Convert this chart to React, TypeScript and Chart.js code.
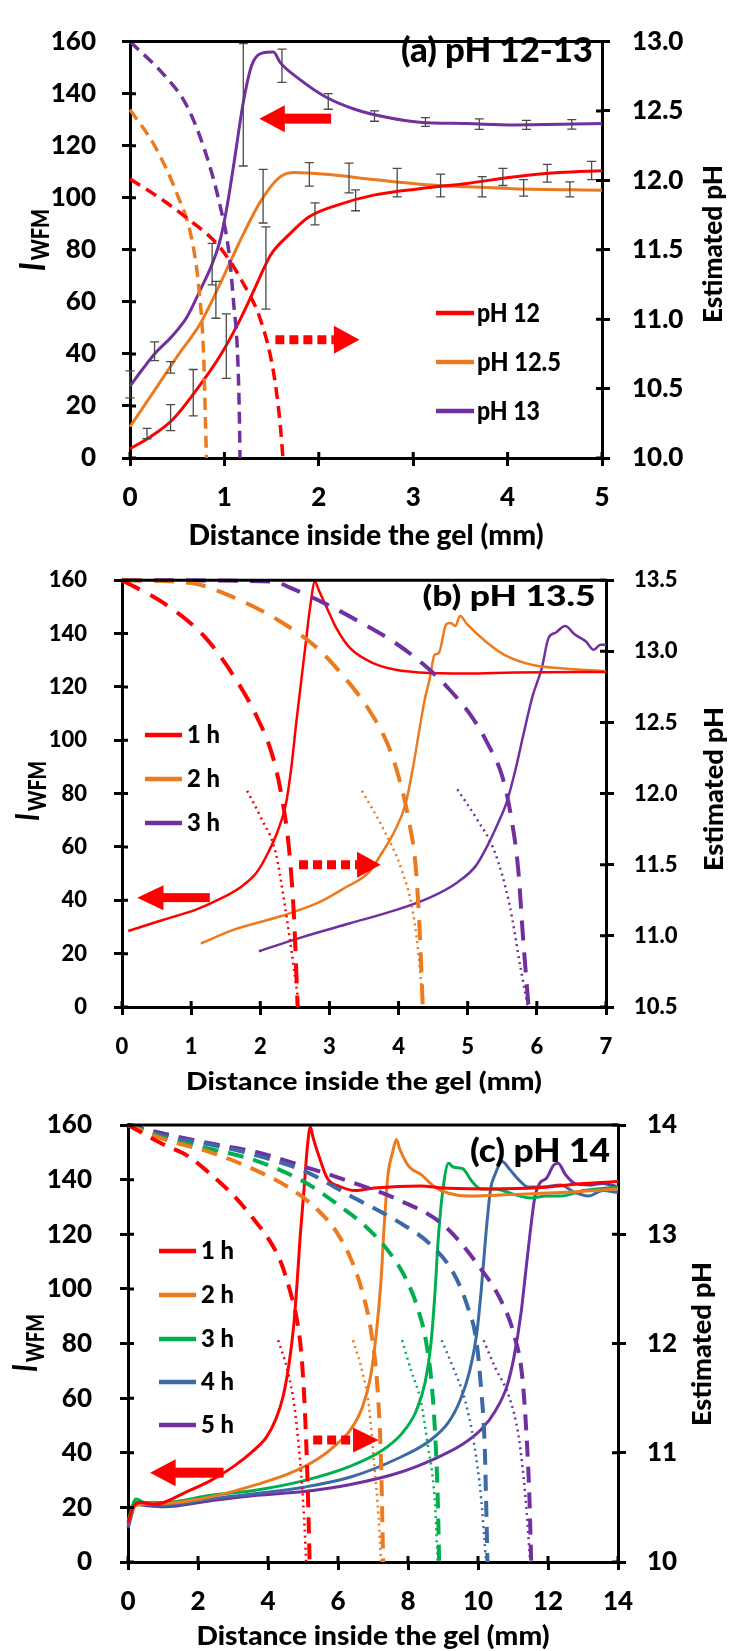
import React, { useEffect, useRef } from 'react';
import { Chart, registerables } from 'chart.js';

Chart.register(...registerables);

const RED = '#FF0000';
const ORANGE = '#EC7A1F';
const PURPLE = '#7030A0';
const GREEN = '#00B050';
const BLUE = '#3B6AA5';
const FONT = 'Lato';
const WEIGHT = '900';

// ---------------- tick labels ----------------
const leftTicks = [0, 20, 40, 60, 80, 100, 120, 140, 160];
const aXTicks = [0, 1, 2, 3, 4, 5];
const aPhTicks = [10, 10.5, 11, 11.5, 12, 12.5, 13];
const bXTicks = [0, 1, 2, 3, 4, 5, 6, 7];
const bPhTicks = [10.5, 11, 11.5, 12, 12.5, 13, 13.5];
const cXTicks = [0, 2, 4, 6, 8, 10, 12, 14];
const cPhTicks = [10, 11, 12, 13, 14];

// ---------------- panel (a) pH 12-13 ----------------
const aLegend = ['pH 12', 'pH 12.5', 'pH 13'];
const aDistRed = [0, 0.21, 0.45, 0.7, 0.95, 1.15, 1.32, 1.49, 1.69, 1.89, 2.18, 2.58, 3.07, 3.57, 4.06, 4.55, 5];
const aIntRed = [3.6, 8, 14.7, 26, 39, 52, 65, 78, 86, 92.5, 97, 101, 103.5, 105.5, 108, 109.7, 110.4];
const aDistOrange = [0, 0.26, 0.5, 0.75, 1.0, 1.2, 1.39, 1.59, 1.74, 2.08, 2.58, 3.07, 3.57, 4.06, 5];
const aIntOrange = [12, 26, 39, 52, 70.5, 86, 99, 108, 109.7, 109, 107, 105.2, 104.2, 103.5, 102.9];
const aDistPurple = [0, 0.13, 0.26, 0.45, 0.6, 0.75, 0.87, 0.95, 1.02, 1.1, 1.2, 1.29, 1.39, 1.52, 1.59, 1.79, 2.08, 2.38, 2.73, 3.07, 3.57, 4.06, 5];
const aIntPurple = [27.6, 34, 40, 47, 54, 65, 74.5, 83, 95, 113, 136.6, 151, 155.5, 156, 152, 145.7, 138.6, 134, 130.8, 129, 128.5, 128, 128.5];

const aPhDistRed = [0, 0.3, 0.6, 0.95, 1.19, 1.39, 1.52, 1.59, 1.62];
const aPhRed = [12.01, 11.88, 11.73, 11.52, 11.27, 10.98, 10.62, 10.25, 10.0];
const aPhDistOrange = [0, 0.26, 0.5, 0.65, 0.73, 0.78, 0.8, 0.81];
const aPhOrange = [12.51, 12.25, 11.9, 11.59, 11.22, 10.74, 10.25, 10.0];
const aPhDistPurple = [0, 0.36, 0.6, 0.8, 0.95, 1.05, 1.1, 1.14, 1.16, 1.165];
const aPhPurple = [13.0, 12.76, 12.54, 12.2, 11.83, 11.47, 11.1, 10.74, 10.25, 10.0];

// error bars (position, mean, half-range)
const aErrDistRed = [0.18, 0.43, 0.67, 1.02, 1.44, 1.96, 2.39, 3.95, 4.42, 4.89];
const aErrMeanRed = [9.4, 15.5, 25.1, 43, 73, 93.8, 99, 108, 109.4, 110.5];
const aErrHalfRed = [2, 5, 8.9, 12.4, 15.8, 4.2, 4, 3.3, 3.4, 3.5];
const aErrDistOrange = [0.43, 0.91, 1.41, 1.9, 2.32, 2.83, 3.29, 3.73, 4.17, 4.66];
const aErrMeanOrange = [34.8, 60.8, 100.6, 109, 107.6, 105.8, 104.7, 104.2, 103.8, 103.2];
const aErrHalfOrange = [2.2, 7.1, 10.3, 4.5, 5.7, 5.5, 4.4, 3.9, 3.2, 2.9];
const aErrDistPurple = [0, 0.26, 0.87, 1.2, 1.61, 2.1, 2.59, 3.13, 3.7, 4.2, 4.68];
const aErrMeanPurple = [28.3, 41, 74.5, 135.7, 150.7, 137, 131.4, 129.1, 128.3, 128, 128.2];
const aErrHalfPurple = [5.2, 3.6, 8, 23.5, 6.4, 3, 2, 1.7, 2, 1.7, 1.8];

// ---------------- panel (b) pH 13.5 ----------------
const bLegend = ['1 h', '2 h', '3 h'];
const bDist1 = [0.09, 0.6, 1.07, 1.41, 1.74, 1.95, 2.12, 2.25, 2.37, 2.45, 2.52, 2.59, 2.66, 2.72, 2.79, 2.85, 2.96, 3.1, 3.3, 3.64, 3.98, 4.31, 4.99, 5.67, 7];
const bInt1 = [28.5, 32.7, 36.5, 40.4, 45.4, 50.5, 58.2, 65.8, 76, 90, 106.5, 121.8, 137, 149.8, 159.4, 156, 149.8, 142, 134.5, 128.8, 126.3, 125.4, 125, 125.4, 125.6];
const bDist2 = [1.14, 1.61, 2.29, 2.83, 3.23, 3.57, 3.77, 3.94, 4.1, 4.21, 4.31, 4.38, 4.45, 4.52, 4.58, 4.69, 4.75, 4.82, 4.89, 4.99, 5.26, 5.53, 5.94, 6.34, 7];
const bInt2 = [23.8, 28.9, 34, 39, 44.8, 50.5, 58.2, 65.8, 76, 90, 105.3, 115.5, 123, 132, 132.6, 143.5, 144, 142.8, 146.6, 143.5, 137, 132, 128.2, 127, 125.9];
const bDist3 = [1.98, 2.62, 3.3, 3.98, 4.45, 4.85, 5.12, 5.29, 5.43, 5.57, 5.7, 5.8, 5.94, 6.07, 6.17, 6.27, 6.41, 6.55, 6.71, 6.82, 6.92, 7];
const bInt3 = [20.9, 26.3, 31.4, 36.5, 41, 46.7, 53, 60.7, 68.4, 77.3, 90, 101.5, 116.7, 126.9, 138.4, 140.3, 142.8, 139.6, 137, 133.9, 135.8, 135.8];

const bPhDist1 = [0, 0.6, 1.2, 1.61, 1.95, 2.18, 2.32, 2.42, 2.49, 2.54];
const bPh1 = [13.5, 13.34, 13.1, 12.83, 12.54, 12.26, 11.95, 11.59, 11.11, 10.5];
const bPhDist2 = [0, 1.0, 1.61, 2.29, 2.83, 3.23, 3.57, 3.84, 4.0, 4.14, 4.25, 4.31, 4.35];
const bPh2 = [13.5, 13.48, 13.38, 13.21, 13.02, 12.81, 12.59, 12.35, 12.12, 11.83, 11.47, 10.99, 10.5];
const bPhDist3 = [0, 2.2, 2.42, 2.96, 3.5, 3.98, 4.38, 4.72, 5.06, 5.29, 5.5, 5.63, 5.73, 5.8, 5.88];
const bPh3 = [13.5, 13.49, 13.45, 13.33, 13.19, 13.05, 12.9, 12.74, 12.54, 12.35, 12.12, 11.83, 11.47, 10.99, 10.5];

const bFitDist1 = [1.81, 2.01, 2.22, 2.35, 2.49, 2.56];
const bFit1 = [12.02, 11.83, 11.59, 11.23, 10.76, 10.5];
const bFitDist2 = [3.47, 3.77, 4.04, 4.21, 4.31, 4.35];
const bFit2 = [12.02, 11.76, 11.47, 11.16, 10.76, 10.5];
const bFitDist3 = [4.85, 5.12, 5.39, 5.6, 5.77, 5.87];
const bFit3 = [12.03, 11.83, 11.59, 11.23, 10.76, 10.5];

// ---------------- panel (c) pH 14 ----------------
const cLegend = ['1 h', '2 h', '3 h', '4 h', '5 h'];
const cDist1 = [0, 0.16, 0.36, 0.76, 1.69, 2.36, 3.03, 3.56, 3.96, 4.23, 4.43, 4.6, 4.73, 4.83, 4.92, 5.03, 5.13, 5.21, 5.29, 5.49, 5.69, 6.09, 6.49, 7.03, 8.36, 9.03, 10.36, 11.69, 13.03, 14];
const cInt1 = [14.4, 20.4, 21.8, 21.1, 25.8, 29.8, 35.1, 40.5, 45.8, 52.5, 60.5, 72.5, 85.9, 101.9, 119.3, 136.6, 152.7, 159.3, 155.3, 147.3, 140.6, 137.3, 136, 136.9, 137.7, 136.9, 136.6, 137, 138.6, 139.3];
const cDist2 = [0, 0.16, 0.36, 1.03, 2.36, 3.69, 4.63, 5.43, 5.96, 6.36, 6.69, 6.92, 7.09, 7.23, 7.32, 7.43, 7.56, 7.67, 7.76, 7.96, 8.09, 8.36, 8.76, 9.16, 9.69, 10.36, 11.03, 12.36, 14];
const cInt2 = [14.4, 19.8, 21.1, 21.4, 23.8, 28.4, 32.5, 37.8, 43.1, 48.5, 56.5, 67.2, 83.2, 103.2, 123.3, 142, 150, 154.7, 151.3, 146, 144, 142, 137.3, 135, 134, 134.2, 134.6, 135.3, 136.6];
const cDist3 = [0, 0.23, 0.49, 1.03, 2.36, 3.69, 5.03, 6.36, 7.29, 7.83, 8.23, 8.49, 8.65, 8.76, 8.87, 9.0, 9.16, 9.29, 9.56, 9.83, 10.09, 10.49, 11.03, 11.49, 11.96, 12.36, 13.03, 14];
const cInt3 = [15, 23.1, 21.8, 21.8, 24.4, 26.4, 29.8, 35.1, 41.1, 47.1, 55.2, 65.8, 79.2, 96.6, 119.3, 136.6, 146, 144.6, 144, 139.3, 136.6, 136.6, 134.6, 133.3, 134, 134, 136, 137.3];
const cDist4 = [0, 0.23, 0.49, 1.03, 2.36, 3.69, 5.03, 6.36, 7.69, 8.63, 9.16, 9.49, 9.76, 9.96, 10.09, 10.23, 10.36, 10.49, 10.69, 10.89, 11.16, 11.43, 11.83, 12.36, 12.76, 13.16, 13.56, 14];
const cInt4 = [13.1, 21.8, 21.1, 20.7, 23.1, 25.1, 27.4, 31.1, 37.8, 44.5, 51.2, 59.2, 69.8, 83.2, 99.2, 120.6, 136.6, 142, 146.6, 144, 140, 137.3, 137.3, 138, 135.3, 134, 136, 135.3];
const cDist5 = [0, 0.23, 0.49, 1.03, 2.36, 3.69, 5.03, 6.36, 7.69, 8.76, 9.56, 10.09, 10.49, 10.83, 11.03, 11.23, 11.36, 11.49, 11.63, 11.76, 11.96, 12.16, 12.29, 12.49, 12.76, 13.16, 13.56, 14];
const cInt5 = [12.4, 21.1, 20.7, 20.2, 22.4, 24.4, 25.8, 28.4, 32.5, 37.8, 43.1, 48.5, 55.2, 64.5, 75.2, 91.2, 105.9, 120.6, 134, 138.6, 140.6, 145.3, 146, 142, 138.6, 138, 138.6, 137.3];

const cPhDist1 = [0, 1.03, 1.69, 2.36, 3.03, 3.56, 4.03, 4.36, 4.63, 4.83, 4.96, 5.05, 5.13, 5.19];
const cPh1 = [14, 13.82, 13.72, 13.55, 13.35, 13.15, 12.95, 12.75, 12.48, 12.21, 11.88, 11.41, 10.74, 10];
const cPhDist2 = [0, 1.03, 2.36, 3.69, 4.63, 5.43, 5.96, 6.36, 6.69, 6.96, 7.13, 7.23, 7.29];
const cPh2 = [14, 13.87, 13.75, 13.58, 13.42, 13.22, 13.02, 12.78, 12.48, 12.08, 11.58, 10.91, 10];
const cPhDist3 = [0, 1.03, 2.36, 3.69, 5.03, 5.96, 6.76, 7.43, 7.96, 8.29, 8.52, 8.69, 8.79, 8.85, 8.89];
const cPh3 = [14, 13.88, 13.78, 13.67, 13.48, 13.28, 13.08, 12.85, 12.58, 12.31, 12.01, 11.58, 11.08, 10.58, 10];
const cPhDist4 = [0, 1.03, 2.36, 3.69, 5.03, 6.36, 7.69, 8.63, 9.29, 9.69, 9.96, 10.09, 10.19, 10.23, 10.27];
const cPh4 = [14, 13.9, 13.82, 13.72, 13.58, 13.35, 13.12, 12.91, 12.65, 12.35, 12.01, 11.58, 11.08, 10.58, 10];
const cPhDist5 = [0, 1.03, 2.36, 3.69, 5.03, 6.36, 7.69, 9.03, 10.09, 10.63, 11.03, 11.27, 11.4, 11.47, 11.52];
const cPh5 = [14, 13.92, 13.83, 13.75, 13.62, 13.48, 13.32, 13.08, 12.68, 12.41, 12.08, 11.68, 11.08, 10.58, 10];

const cFitDist1 = [4.29, 4.56, 4.76, 4.92, 5.03, 5.09];
const cFit1 = [12.03, 11.75, 11.41, 10.91, 10.41, 10];
const cFitDist2 = [6.43, 6.69, 6.89, 7.03, 7.16, 7.23];
const cFit2 = [12.03, 11.75, 11.41, 10.91, 10.41, 10];
const cFitDist3 = [7.83, 8.09, 8.36, 8.56, 8.76, 8.85];
const cFit3 = [12.03, 11.75, 11.48, 11.08, 10.58, 10];
const cFitDist4 = [8.96, 9.29, 9.63, 9.89, 10.09, 10.23];
const cFit4 = [12.03, 11.78, 11.48, 11.08, 10.58, 10];
const cFitDist5 = [10.16, 10.49, 10.89, 11.16, 11.36, 11.49];
const cFit5 = [12.03, 11.78, 11.51, 11.15, 10.58, 10];

// ---------------- helpers ----------------
const pts = (xs: number[], ys: number[]) => xs.map((x, i) => ({ x, y: ys[i] }));

function solid(label: string, color: string, xs: number[], ys: number[], w = 3) {
  return {
    label, data: pts(xs, ys), borderColor: color, backgroundColor: color, borderWidth: w,
    pointRadius: 0, yAxisID: 'y', cubicInterpolationMode: 'monotone', fill: false, clip: 4,
  };
}
function styled(color: string, xs: number[], ys: number[], dash: number[], w: number) {
  return {
    label: '', data: pts(xs, ys), borderColor: color, backgroundColor: color, borderWidth: w,
    borderDash: dash, pointRadius: 0, yAxisID: 'y2', cubicInterpolationMode: 'monotone', fill: false, clip: 4,
  };
}
function errs(color: string, xs: number[], ms: number[], hs: number[]) {
  return xs.map((x, i) => ({ x, m: ms[i], h: hs[i], color }));
}

const bold = (size: number) => `${WEIGHT} ${size}px ${FONT}`;

function fitText(ctx: any, text: string, font: string, cx: number, cy: number, w: number, align = 'center') {
  ctx.save();
  ctx.font = font;
  const m = ctx.measureText(text).width;
  ctx.translate(cx, cy);
  ctx.scale(w / m, 1);
  ctx.textAlign = align;
  ctx.textBaseline = 'middle';
  ctx.fillStyle = '#000';
  ctx.fillText(text, 0, 0);
  ctx.restore();
}
function rotText(ctx: any, text: string, font: string, baseX: number, cy: number, len: number) {
  ctx.save();
  ctx.font = font;
  const m = ctx.measureText(text).width;
  ctx.translate(baseX, cy);
  ctx.rotate(-Math.PI / 2);
  ctx.scale(len / m, 1);
  ctx.textAlign = 'center';
  ctx.textBaseline = 'alphabetic';
  ctx.fillStyle = '#000';
  ctx.fillText(text, 0, 0);
  ctx.restore();
}
function iwfm(ctx: any, t: any, oy: number) {
  ctx.save();
  const fI = `italic ${WEIGHT} ${t.iSize}px ${FONT}`;
  const fW = bold(t.wSize);
  ctx.font = fI;
  const wI = ctx.measureText('I').width;
  ctx.font = fW;
  const wW = ctx.measureText('WFM').width;
  const gap = 3;
  const tot = wI + gap + wW;
  ctx.translate(t.base, t.cy - oy);
  ctx.rotate(-Math.PI / 2);
  ctx.scale(t.len / tot, 1);
  ctx.textAlign = 'left';
  ctx.textBaseline = 'alphabetic';
  ctx.fillStyle = '#000';
  ctx.font = fI;
  ctx.fillText('I', -tot / 2, 0);
  ctx.font = fW;
  ctx.fillText('WFM', -tot / 2 + wI + gap, t.sub);
  ctx.restore();
}

function drawArrow(ctx: any, xs: any, ys: any, a: any, dotted: boolean) {
  const yy = ys.getPixelForValue(a.y);
  const xt = xs.getPixelForValue(a.tip);
  const xb = xs.getPixelForValue(a.base);
  const xl = xs.getPixelForValue(a.tail);
  ctx.save();
  ctx.fillStyle = RED;
  ctx.strokeStyle = RED;
  ctx.beginPath();
  ctx.moveTo(xt, yy);
  ctx.lineTo(xb, yy - a.head / 2);
  ctx.lineTo(xb, yy + a.head / 2);
  ctx.closePath();
  ctx.fill();
  if (dotted) {
    ctx.lineWidth = a.body;
    ctx.setLineDash(a.dash);
    ctx.lineCap = 'butt';
    ctx.beginPath();
    ctx.moveTo(xl, yy);
    ctx.lineTo(xb, yy);
    ctx.stroke();
  } else {
    ctx.fillRect(Math.min(xb, xl) - 0.5, yy - a.body / 2, Math.abs(xl - xb) + 0.5, a.body);
  }
  ctx.restore();
}

function makeDecor(p: any) {
  return {
    id: 'decor_' + p.id,
    afterDraw(chart: any) {
      const ctx = chart.ctx;
      const { left, right, top, bottom } = chart.chartArea;
      const xs = chart.scales.x;
      const ys = chart.scales.y;
      const y2 = chart.scales.y2;
      const oy = p.canvasTop;
      ctx.save();
      // top frame line
      ctx.strokeStyle = '#000';
      ctx.lineWidth = 3;
      ctx.beginPath();
      ctx.moveTo(left - 1.5, top);
      ctx.lineTo(right + 1.5, top);
      ctx.stroke();
      // inward half of the crossing ticks
      ctx.beginPath();
      xs.ticks.forEach((t: any) => { const px = xs.getPixelForValue(t.value); ctx.moveTo(px, bottom); ctx.lineTo(px, bottom - 6); });
      ys.ticks.forEach((t: any) => { const py = ys.getPixelForValue(t.value); ctx.moveTo(left, py); ctx.lineTo(left + 6, py); });
      y2.ticks.forEach((t: any) => { const py = y2.getPixelForValue(t.value); ctx.moveTo(right, py); ctx.lineTo(right - 6, py); });
      ctx.stroke();
      // error bars
      (p.errorBars || []).forEach((e: any) => {
        const px = xs.getPixelForValue(e.x);
        const p1 = ys.getPixelForValue(e.m - e.h);
        const p2 = ys.getPixelForValue(e.m + e.h);
        ctx.strokeStyle = '#4a4a4a';
        ctx.lineWidth = 1.3;
        ctx.beginPath();
        ctx.moveTo(px, p1); ctx.lineTo(px, p2);
        ctx.moveTo(px - 4.5, p1); ctx.lineTo(px + 4.5, p1);
        ctx.moveTo(px - 4.5, p2); ctx.lineTo(px + 4.5, p2);
        ctx.stroke();
      });
      // arrows
      drawArrow(ctx, xs, ys, p.arrowLeft, false);
      drawArrow(ctx, xs, ys, p.arrowRight, true);
      // texts
      const T = p.text;
      fitText(ctx, 'Distance inside the gel (mm)', bold(T.xt.size), T.xt.cx, T.xt.cy - oy, T.xt.w);
      iwfm(ctx, T.yt, oy);
      rotText(ctx, 'Estimated pH', bold(T.rt.size), T.rt.base, T.rt.cy - oy, T.rt.len);
      fitText(ctx, T.label.text, bold(T.label.size), T.label.cx, T.label.cy - oy, T.label.w);
      // legend
      const L = p.legend;
      L.labels.forEach((lab: string, i: number) => {
        const yy = L.ys[i] - oy;
        ctx.save();
        ctx.strokeStyle = L.colors[i];
        ctx.lineWidth = 4.5;
        ctx.setLineDash([]);
        ctx.beginPath();
        ctx.moveTo(L.x1, yy);
        ctx.lineTo(L.x2, yy);
        ctx.stroke();
        ctx.restore();
        fitText(ctx, lab, bold(L.size), L.tx, yy, L.widths[i], 'left');
      });
      ctx.restore();
    },
  };
}

function buildConfig(p: any) {
  const area = p.area;
  const cTop = p.canvasTop;
  const tickFont = { family: p.tickFamily, size: p.tickSize, weight: p.tickWeight };
  const grid = { display: true, drawOnChartArea: false, drawTicks: true, tickLength: 8, tickWidth: 3, tickColor: '#000', color: '#000', lineWidth: 3 };
  const border = { display: true, color: '#000', width: 3 };
  return {
    type: 'line',
    data: { datasets: p.datasets },
    plugins: [makeDecor(p)],
    options: {
      responsive: false,
      animation: false,
      devicePixelRatio: 1,
      events: [],
      layout: { padding: { top: area.top - cTop, left: 0, right: 0, bottom: 0 } },
      plugins: { legend: { display: false }, tooltip: { enabled: false }, title: { display: false } },
      elements: { point: { radius: 0 }, line: { borderCapStyle: 'butt' } },
      scales: {
        x: {
          type: 'linear', position: 'bottom', min: p.xTicks[0], max: p.xTicks[p.xTicks.length - 1],
          afterBuildTicks: (s: any) => { s.ticks = p.xTicks.map((v: number) => ({ value: v })); },
          afterFit: (s: any) => { s.height = p.canvasHeight - (area.bottom - cTop); },
          ticks: { font: tickFont, color: '#000', padding: p.xPad, autoSkip: false, maxRotation: 0, minRotation: 0, callback: (v: any) => String(v) },
          grid, border,
        },
        y: {
          type: 'linear', position: 'left', min: 0, max: 160,
          afterBuildTicks: (s: any) => { s.ticks = leftTicks.map((v) => ({ value: v })); },
          afterFit: (s: any) => { s.width = area.left; },
          ticks: { font: tickFont, color: '#000', padding: p.yPad, autoSkip: false, callback: (v: any) => String(v) },
          grid, border,
        },
        y2: {
          type: 'linear', position: 'right', min: p.phTicks[0], max: p.phTicks[p.phTicks.length - 1],
          afterBuildTicks: (s: any) => { s.ticks = p.phTicks.map((v: number) => ({ value: v })); },
          afterFit: (s: any) => { s.width = 733 - area.right; },
          ticks: { font: tickFont, color: '#000', padding: p.y2Pad, autoSkip: false, callback: (v: any) => Number(v).toFixed(p.phDecimals) },
          grid, border,
        },
      },
    },
  };
}

// ---------------- panel specs ----------------
const panels = [
  {
    id: 'a', canvasTop: 0, canvasHeight: 560,
    area: { left: 130, right: 602, top: 24, bottom: 458 },
    xTicks: aXTicks, phTicks: aPhTicks, phDecimals: 1,
    tickFamily: FONT, tickWeight: WEIGHT, tickSize: 26, xPad: 16, yPad: 26, y2Pad: 22,
    datasets: [
      styled(RED, aPhDistRed, aPhRed, [12, 7], 3.5),
      styled(ORANGE, aPhDistOrange, aPhOrange, [12, 7], 3.5),
      styled(PURPLE, aPhDistPurple, aPhPurple, [12, 7], 3.5),
      solid(aLegend[0], RED, aDistRed, aIntRed),
      solid(aLegend[1], ORANGE, aDistOrange, aIntOrange),
      solid(aLegend[2], PURPLE, aDistPurple, aIntPurple),
    ],
    errorBars: [
      ...errs(RED, aErrDistRed, aErrMeanRed, aErrHalfRed),
      ...errs(ORANGE, aErrDistOrange, aErrMeanOrange, aErrHalfOrange),
      ...errs(PURPLE, aErrDistPurple, aErrMeanPurple, aErrHalfPurple),
    ],
    arrowLeft: { tip: 1.37, base: 1.64, tail: 2.13, y: 130.4, head: 27, body: 10 },
    arrowRight: { tail: 1.54, base: 2.16, tip: 2.43, y: 45.4, head: 28, body: 9, dash: [9, 5] },
    text: {
      xt: { cx: 366, cy: 536, w: 355, size: 28 },
      yt: { base: 45, cy: 240, len: 62, iSize: 36, wSize: 25, sub: 4 },
      rt: { base: 722, cy: 244, len: 158, size: 26 },
      label: { text: '(a) pH 12-13', cx: 497, cy: 51, w: 192, size: 35 },
    },
    legend: { labels: aLegend, colors: [RED, ORANGE, PURPLE], x1: 436, x2: 474, tx: 477, ys: [313, 362, 411], size: 27, widths: [63, 84, 63] },
  },
  {
    id: 'b', canvasTop: 540, canvasHeight: 570,
    area: { left: 122, right: 606, top: 573, bottom: 1007 },
    xTicks: bXTicks, phTicks: bPhTicks, phDecimals: 1,
    tickFamily: FONT, tickWeight: WEIGHT, tickSize: 22, xPad: 19, yPad: 27, y2Pad: 20,
    datasets: [
      styled(RED, bFitDist1, bFit1, [2, 4], 2.5),
      styled(ORANGE, bFitDist2, bFit2, [2, 4], 2.5),
      styled(PURPLE, bFitDist3, bFit3, [2, 4], 2.5),
      styled(RED, bPhDist1, bPh1, [20, 12], 4),
      styled(ORANGE, bPhDist2, bPh2, [20, 12], 4),
      styled(PURPLE, bPhDist3, bPh3, [20, 12], 4),
      solid(bLegend[0], RED, bDist1, bInt1, 2.5),
      solid(bLegend[1], ORANGE, bDist2, bInt2, 2.5),
      solid(bLegend[2], PURPLE, bDist3, bInt3, 2.5),
    ],
    errorBars: [],
    arrowLeft: { tip: 0.22, base: 0.6, tail: 1.27, y: 41, head: 25, body: 9 },
    arrowRight: { tail: 2.56, base: 3.4, tip: 3.74, y: 53.3, head: 26, body: 9, dash: [9, 5] },
    text: {
      xt: { cx: 364, cy: 1082, w: 356, size: 25 },
      yt: { base: 39, cy: 791, len: 60, iSize: 32, wSize: 24, sub: 7 },
      rt: { base: 723, cy: 789, len: 164, size: 26 },
      label: { text: '(b) pH 13.5', cx: 509, cy: 597, w: 173, size: 28 },
    },
    legend: { labels: bLegend, colors: [RED, ORANGE, PURPLE], x1: 145, x2: 182, tx: 187, ys: [735, 779, 823], size: 24, widths: [33, 33, 33] },
  },
  {
    id: 'c', canvasTop: 1080, canvasHeight: 571,
    area: { left: 128, right: 618, top: 1125, bottom: 1562 },
    xTicks: cXTicks, phTicks: cPhTicks, phDecimals: 0,
    tickFamily: FONT, tickWeight: WEIGHT, tickSize: 26, xPad: 16, yPad: 28, y2Pad: 21,
    datasets: [
      styled(RED, cFitDist1, cFit1, [2, 4], 2.5),
      styled(ORANGE, cFitDist2, cFit2, [2, 4], 2.5),
      styled(GREEN, cFitDist3, cFit3, [2, 4], 2.5),
      styled(BLUE, cFitDist4, cFit4, [2, 4], 2.5),
      styled(PURPLE, cFitDist5, cFit5, [2, 4], 2.5),
      styled(RED, cPhDist1, cPh1, [16, 10], 4),
      styled(ORANGE, cPhDist2, cPh2, [16, 10], 4),
      styled(GREEN, cPhDist3, cPh3, [16, 10], 4),
      styled(BLUE, cPhDist4, cPh4, [16, 10], 4),
      styled(PURPLE, cPhDist5, cPh5, [16, 10], 4),
      solid(cLegend[0], RED, cDist1, cInt1),
      solid(cLegend[1], ORANGE, cDist2, cInt2),
      solid(cLegend[2], GREEN, cDist3, cInt3),
      solid(cLegend[3], BLUE, cDist4, cInt4),
      solid(cLegend[4], PURPLE, cDist5, cInt5),
    ],
    errorBars: [],
    arrowLeft: { tip: 0.63, base: 1.36, tail: 2.73, y: 32.7, head: 27, body: 10 },
    arrowRight: { tail: 5.29, base: 6.43, tip: 7.16, y: 44.7, head: 25, body: 9, dash: [9, 5] },
    text: {
      xt: { cx: 373, cy: 1637, w: 353, size: 26 },
      yt: { base: 37, cy: 1343, len: 58, iSize: 34, wSize: 24, sub: 7 },
      rt: { base: 711, cy: 1344, len: 164, size: 26 },
      label: { text: '(c) pH 14', cx: 540, cy: 1152, w: 140, size: 32 },
    },
    legend: { labels: cLegend, colors: [RED, ORANGE, GREEN, BLUE, PURPLE], x1: 159, x2: 196, tx: 201, ys: [1251, 1295, 1339, 1382, 1425], size: 25, widths: [33, 33, 33, 33, 33] },
  },
];

function Panel({ spec }: { spec: any }) {
  const ref = useRef<HTMLCanvasElement>(null);
  useEffect(() => {
    const chart = new Chart(ref.current as HTMLCanvasElement, buildConfig(spec) as any);
    return () => chart.destroy();
  }, [spec]);
  return (
    <canvas
      ref={ref}
      width={733}
      height={spec.canvasHeight}
      style={{ position: 'absolute', left: 0, top: spec.canvasTop, width: 733, height: spec.canvasHeight, display: 'block' }}
    />
  );
}

export default function App() {
  return (
    <div style={{ position: 'absolute', left: 0, top: 0, width: 733, height: 1651, background: '#fff', overflow: 'hidden' }}>
      {panels.map((p) => (
        <Panel key={p.id} spec={p} />
      ))}
    </div>
  );
}
